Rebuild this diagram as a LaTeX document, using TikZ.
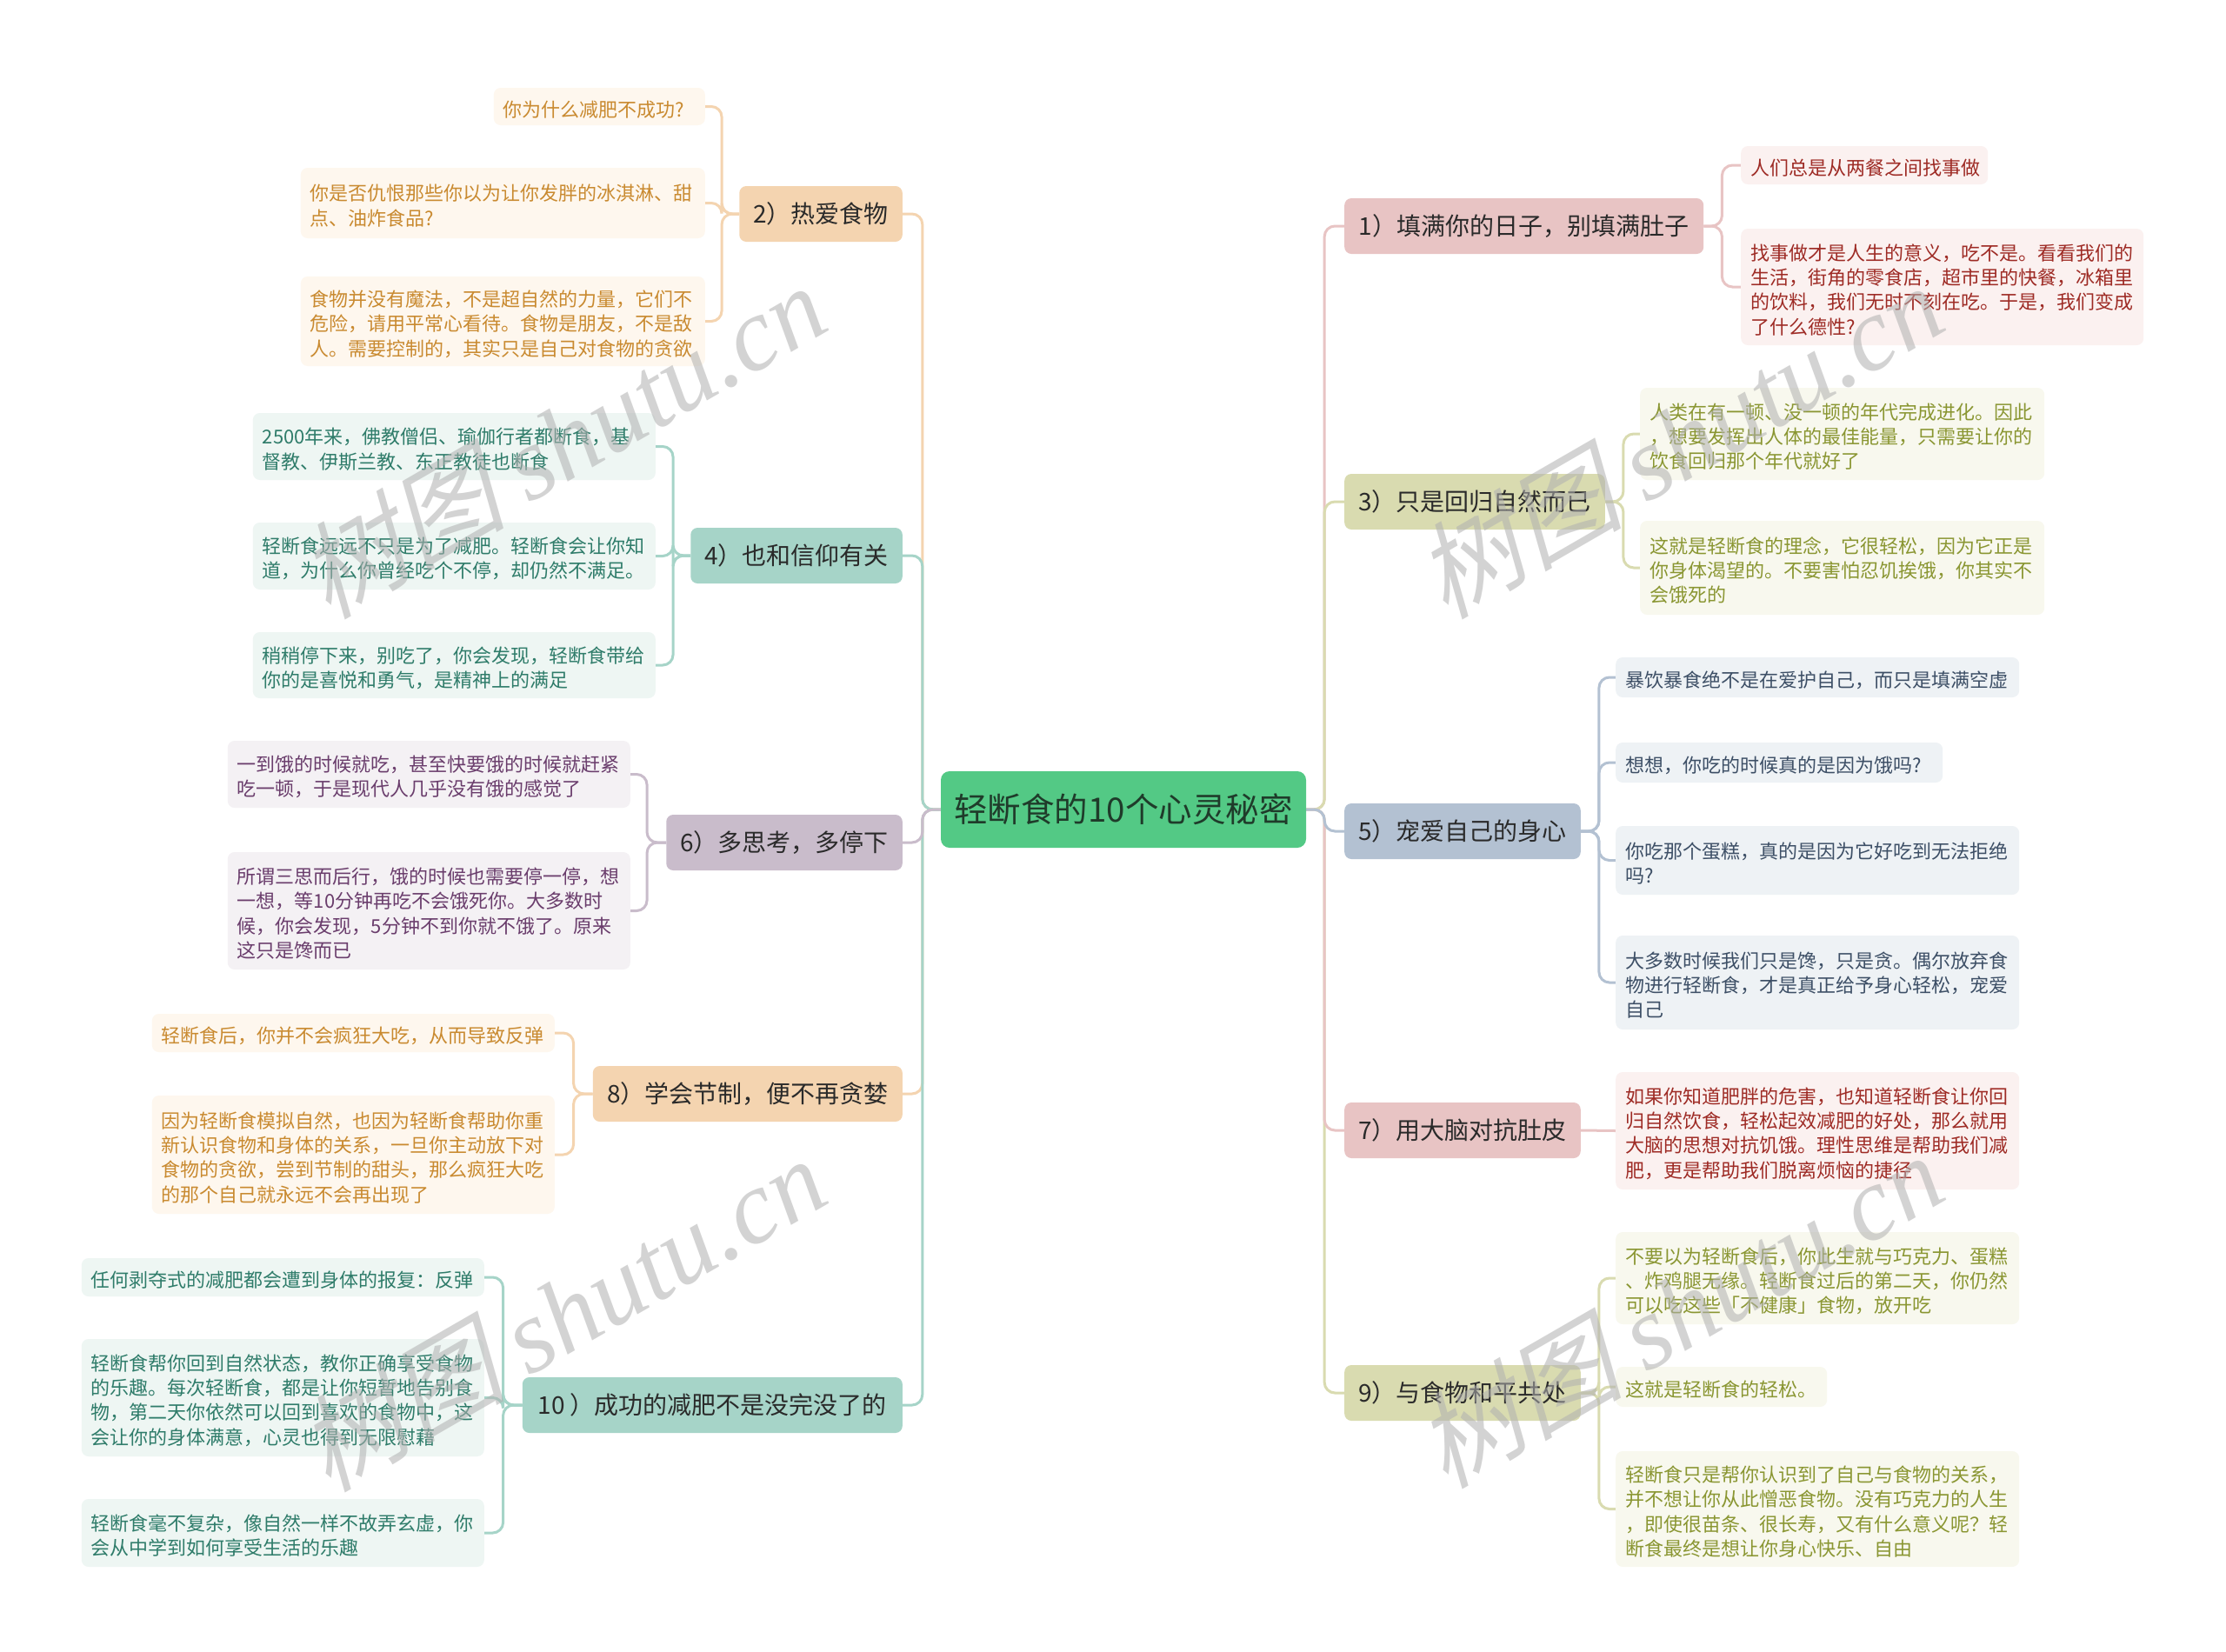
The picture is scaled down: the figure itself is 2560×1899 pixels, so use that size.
\documentclass[tikz,border=0pt]{standalone}
\usepackage{fontspec}
\setmainfont{Noto Sans CJK SC}
\newfontfamily\wmcjk[FakeSlant=0.25]{Noto Sans CJK SC}
\newfontfamily\wmlat{Liberation Serif}
\usetikzlibrary{calc,backgrounds}
\definecolor{cgreen}{HTML}{53C985}
\definecolor{cgreenT}{HTML}{1F3B2A}
\definecolor{ctext}{HTML}{2A2A2A}
\definecolor{cpeach}{HTML}{F4D4B0}
\definecolor{cpeachL}{HTML}{FEF7EE}
\definecolor{cpeachT}{HTML}{C98A30}
\definecolor{cteal}{HTML}{A6D4C8}
\definecolor{ctealL}{HTML}{EEF6F3}
\definecolor{ctealT}{HTML}{2F7C6A}
\definecolor{cpurp}{HTML}{C9BCCB}
\definecolor{cpurpL}{HTML}{F4F1F4}
\definecolor{cpurpT}{HTML}{6A3D6C}
\definecolor{cpink}{HTML}{E8C4C4}
\definecolor{cpinkL}{HTML}{FBF1F0}
\definecolor{cpinkT}{HTML}{9E2B25}
\definecolor{colive}{HTML}{D9DBB0}
\definecolor{coliveL}{HTML}{F8F8EE}
\definecolor{coliveT}{HTML}{8A9632}
\definecolor{cslate}{HTML}{B3C1D2}
\definecolor{cslateL}{HTML}{EEF2F5}
\definecolor{cslateT}{HTML}{3D4F66}
\definecolor{cwm}{HTML}{B0B0B0}
\tikzset{
  centerbox/.style={rounded corners=10, fill=cgreen, text=cgreenT, inner sep=0,
    minimum width=420, minimum height=88, font=\fontsize{38.5}{44}\selectfont},
  mainbox/.style={rounded corners=8, inner xsep=16, inner ysep=0, minimum height=64,
    font=\fontsize{28}{34}\selectfont, text=ctext},
  leafbox/.style={rounded corners=8, inner xsep=11, inner ysep=4, align=left,
    font=\fontsize{22}{28.3}\selectfont, execute at begin node={\rule{0pt}{25pt}}},
  peachmain/.style={mainbox, fill=cpeach},
  tealmain/.style={mainbox, fill=cteal},
  purpmain/.style={mainbox, fill=cpurp},
  pinkmain/.style={mainbox, fill=cpink},
  olivemain/.style={mainbox, fill=colive},
  slatemain/.style={mainbox, fill=cslate},
  peachleaf/.style={leafbox, fill=cpeachL, text=cpeachT},
  tealleaf/.style={leafbox, fill=ctealL, text=ctealT},
  purpleaf/.style={leafbox, fill=cpurpL, text=cpurpT},
  pinkleaf/.style={leafbox, fill=cpinkL, text=cpinkT},
  oliveleaf/.style={leafbox, fill=coliveL, text=coliveT},
  slateleaf/.style={leafbox, fill=cslateL, text=cslateT},
  conn/.style={line width=3, rounded corners=12},
  wmark/.style={text=cwm, text opacity=0.55, rotate=30, inner sep=0,
    font=\fontsize{120}{130}\selectfont}
}
\begin{document}
\begin{tikzpicture}[x=1pt,y=-1pt]
\useasboundingbox (0,0) rectangle (2560,1899);
% center
\node[centerbox] (C) at (1292,931) {轻断食的10个心灵秘密};
% left main nodes
\node[peachmain, anchor=east, minimum width=186] (N2) at (1038,246) {2）热爱食物};
\node[tealmain, anchor=east, minimum width=243] (N4) at (1038,639) {4）也和信仰有关};
\node[purpmain, anchor=east, minimum width=269] (N6) at (1038,969) {6）多思考，多停下};
\node[peachmain, anchor=east, minimum width=356] (N8) at (1038,1258) {8）学会节制，便不再贪婪};
\node[tealmain, anchor=east, minimum width=437] (N10) at (1038,1616) {10 ）成功的减肥不是没完没了的};
% right main nodes
\node[pinkmain, anchor=west, minimum width=413] (N1) at (1546,260) {1）填满你的日子，别填满肚子};
\node[olivemain, anchor=west, minimum width=299] (N3) at (1546,577) {3）只是回归自然而已};
\node[slatemain, anchor=west, minimum width=271] (N5) at (1546,956) {5）宠爱自己的身心};
\node[pinkmain, anchor=west, minimum width=271] (N7) at (1546,1300) {7）用大脑对抗肚皮};
\node[olivemain, anchor=west, minimum width=271] (N9) at (1546,1602) {9）与食物和平共处};
% leaves of 2
\node[peachleaf, anchor=east, text width=221, minimum height=43] (L2a) at (811,122.5) {你为什么减肥不成功?};
\node[peachleaf, anchor=east, text width=443, minimum height=81] (L2b) at (811,233.5) {你是否仇恨那些你以为让你发胖的冰淇淋、甜\\点、油炸食品?};
\node[peachleaf, anchor=east, text width=443, minimum height=103] (L2c) at (811,369.5) {食物并没有魔法，不是超自然的力量，它们不\\危险，请用平常心看待。食物是朋友，不是敌\\人。需要控制的，其实只是自己对食物的贪欲};
% leaves of 4
\node[tealleaf, anchor=east, text width=441, minimum height=77] (L4a) at (754,513.5) {2500年来，佛教僧侣、瑜伽行者都断食，基\\督教、伊斯兰教、东正教徒也断食};
\node[tealleaf, anchor=east, text width=441, minimum height=77] (L4b) at (754,639.5) {轻断食远远不只是为了减肥。轻断食会让你知\\道，为什么你曾经吃个不停，却仍然不满足。};
\node[tealleaf, anchor=east, text width=441, minimum height=76] (L4c) at (754,765) {稍稍停下来，别吃了，你会发现，轻断食带给\\你的是喜悦和勇气，是精神上的满足};
% leaves of 6
\node[purpleaf, anchor=east, text width=441, minimum height=77] (L6a) at (725,890.5) {一到饿的时候就吃，甚至快要饿的时候就赶紧\\吃一顿，于是现代人几乎没有饿的感觉了};
\node[purpleaf, anchor=east, text width=441, minimum height=135] (L6b) at (725,1047.5) {所谓三思而后行，饿的时候也需要停一停，想\\一想，等10分钟再吃不会饿死你。大多数时\\候，你会发现，5分钟不到你就不饿了。原来\\这只是馋而已};
% leaves of 8
\node[peachleaf, anchor=east, text width=441, minimum height=44] (L8a) at (638,1188) {轻断食后，你并不会疯狂大吃，从而导致反弹};
\node[peachleaf, anchor=east, text width=441, minimum height=136] (L8b) at (638,1328) {因为轻断食模拟自然，也因为轻断食帮助你重\\新认识食物和身体的关系，一旦你主动放下对\\食物的贪欲，尝到节制的甜头，那么疯狂大吃\\的那个自己就永远不会再出现了};
% leaves of 10
\node[tealleaf, anchor=east, text width=441, minimum height=44] (L10a) at (557,1469) {任何剥夺式的减肥都会遭到身体的报复：反弹};
\node[tealleaf, anchor=east, text width=441, minimum height=135] (L10b) at (557,1607.5) {轻断食帮你回到自然状态，教你正确享受食物\\的乐趣。每次轻断食，都是让你短暂地告别食\\物，第二天你依然可以回到喜欢的食物中，这\\会让你的身体满意，心灵也得到无限慰藉};
\node[tealleaf, anchor=east, text width=441, minimum height=78] (L10c) at (557,1763) {轻断食毫不复杂，像自然一样不故弄玄虚，你\\会从中学到如何享受生活的乐趣};
% leaves of 1
\node[pinkleaf, anchor=west, text width=262, minimum height=44] (L1a) at (2002,190) {人们总是从两餐之间找事做};
\node[pinkleaf, anchor=west, text width=441, minimum height=134] (L1b) at (2002,330) {找事做才是人生的意义，吃不是。看看我们的\\生活，街角的零食店，超市里的快餐，冰箱里\\的饮料，我们无时不刻在吃。于是，我们变成\\了什么德性?};
% leaves of 3
\node[oliveleaf, anchor=west, text width=443, minimum height=106] (L3a) at (1886,499) {人类在有一顿、没一顿的年代完成进化。因此\\，想要发挥出人体的最佳能量，只需要让你的\\饮食回归那个年代就好了};
\node[oliveleaf, anchor=west, text width=443, minimum height=108] (L3b) at (1886,653) {这就是轻断食的理念，它很轻松，因为它正是\\你身体渴望的。不要害怕忍饥挨饿，你其实不\\会饿死的};
% leaves of 5
\node[slateleaf, anchor=west, text width=442, minimum height=46] (L5a) at (1858,779) {暴饮暴食绝不是在爱护自己，而只是填满空虚};
\node[slateleaf, anchor=west, text width=354, minimum height=46] (L5b) at (1858,877) {想想，你吃的时候真的是因为饿吗?};
\node[slateleaf, anchor=west, text width=442, minimum height=79] (L5c) at (1858,989.5) {你吃那个蛋糕，真的是因为它好吃到无法拒绝\\吗?};
\node[slateleaf, anchor=west, text width=442, minimum height=108] (L5d) at (1858,1130) {大多数时候我们只是馋，只是贪。偶尔放弃食\\物进行轻断食，才是真正给予身心轻松，宠爱\\自己};
% leaf of 7
\node[pinkleaf, anchor=west, text width=442, minimum height=135] (L7a) at (1858,1300.5) {如果你知道肥胖的危害，也知道轻断食让你回\\归自然饮食，轻松起效减肥的好处，那么就用\\大脑的思想对抗饥饿。理性思维是帮助我们减\\肥，更是帮助我们脱离烦恼的捷径};
% leaves of 9
\node[oliveleaf, anchor=west, text width=442, minimum height=106] (L9a) at (1858,1470) {不要以为轻断食后，你此生就与巧克力、蛋糕\\、炸鸡腿无缘。轻断食过后的第二天，你仍然\\可以吃这些「不健康」食物，放开吃};
\node[oliveleaf, anchor=west, text width=221, minimum height=46] (L9b) at (1858,1595) {这就是轻断食的轻松。};
\node[oliveleaf, anchor=west, text width=442, minimum height=133] (L9c) at (1858,1735.5) {轻断食只是帮你认识到了自己与食物的关系，\\并不想让你从此憎恶食物。没有巧克力的人生\\，即使很苗条、很长寿，又有什么意义呢？轻\\断食最终是想让你身心快乐、自由};
% connectors
\begin{pgfonlayer}{background}
\fill[white] (0,0) rectangle (2560,1899);
% center to main (left)
\draw[conn, draw=cpeach] (C.west) -- ++(-21,0) |- (N2.east);
\draw[conn, draw=cpeach] (C.west) -- ++(-21,0) |- (N8.east);
\draw[conn, draw=cteal] (C.west) -- ++(-21,0) |- (N4.east);
\draw[conn, draw=cteal] (C.west) -- ++(-21,0) |- (N10.east);
\draw[conn, draw=cpurp] (C.west) -- ++(-21,0) |- (N6.east);
% center to main (right)
\draw[conn, draw=cpink] (C.east) -- ++(21,0) |- (N1.west);
\draw[conn, draw=colive] (C.east) -- ++(21,0) |- (N3.west);
\draw[conn, draw=colive] (C.east) -- ++(21,0) |- (N9.west);
\draw[conn, draw=cpink] (C.east) -- ++(21,0) |- (N7.west);
\draw[conn, draw=cslate] (C.east) -- ++(21,0) |- (N5.west);
% main to leaves (left)
\foreach \l in {L2a,L2b,L2c} \draw[conn, draw=cpeach] (N2.west) -- ++(-20,0) |- (\l.east);
\foreach \l in {L4a,L4b,L4c} \draw[conn, draw=cteal] (N4.west) -- ++(-20,0) |- (\l.east);
\foreach \l in {L6a,L6b} \draw[conn, draw=cpurp] (N6.west) -- ++(-22,0) |- (\l.east);
\foreach \l in {L8a,L8b} \draw[conn, draw=cpeach] (N8.west) -- ++(-22,0) |- (\l.east);
\foreach \l in {L10a,L10b,L10c} \draw[conn, draw=cteal] (N10.west) -- ++(-22,0) |- (\l.east);
% main to leaves (right)
\foreach \l in {L1a,L1b} \draw[conn, draw=cpink] (N1.east) -- ++(21,0) |- (\l.west);
\foreach \l in {L3a,L3b} \draw[conn, draw=colive] (N3.east) -- ++(21,0) |- (\l.west);
\foreach \l in {L5a,L5b,L5c,L5d} \draw[conn, draw=cslate] (N5.east) -- ++(21,0) |- (\l.west);
\draw[conn, draw=cpink] (N7.east) -- (L7a.west);
\foreach \l in {L9a,L9b,L9c} \draw[conn, draw=colive] (N9.east) -- ++(21,0) |- (\l.west);
\end{pgfonlayer}
% watermarks
\node[wmark] (W1) at (645,506) {{\wmcjk 树图} {\wmlat\itshape shutu.cn}};
\node[wmark] (W2) at (1930,506) {{\wmcjk 树图} {\wmlat\itshape shutu.cn}};
\node[wmark] (W3) at (645,1510) {{\wmcjk 树图} {\wmlat\itshape shutu.cn}};
\node[wmark] (W4) at (1930,1506) {{\wmcjk 树图} {\wmlat\itshape shutu.cn}};
\end{tikzpicture}
\end{document}
